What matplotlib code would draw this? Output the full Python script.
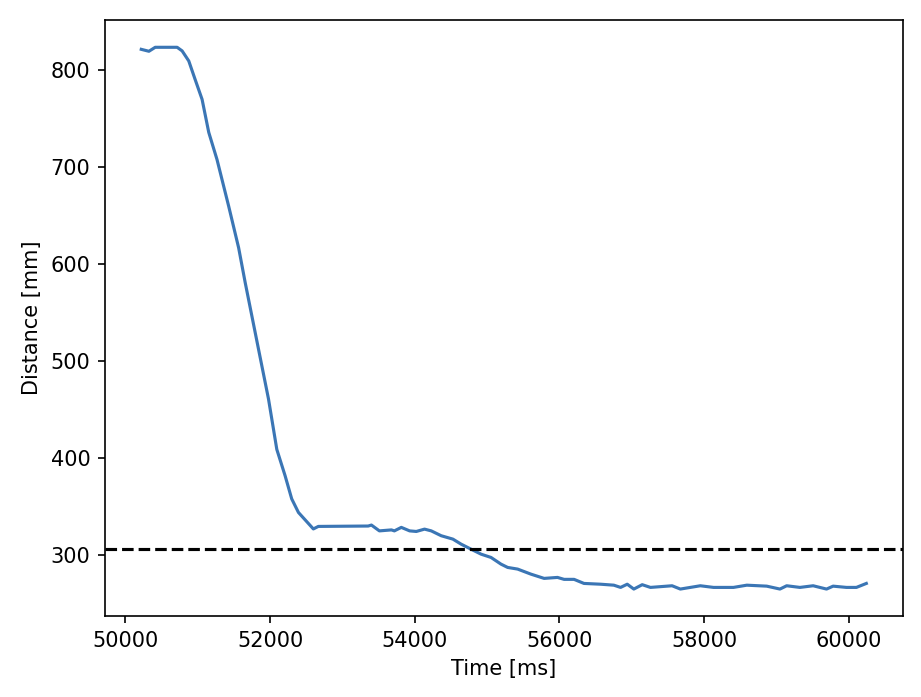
import matplotlib
matplotlib.use("Agg")
import matplotlib.pyplot as plt

time_ms = [50220, 50326, 50413, 50716, 50785, 50877, 50964, 51061, 51153, 51267,
           51428, 51566, 51657, 51842, 51979, 52094, 52208, 52300, 52393, 52599,
           52668, 53357, 53402, 53512, 53678, 53719, 53815, 53930, 54022, 54136,
           54229, 54366, 54528, 54642, 54825, 54917, 55055, 55193, 55285, 55423,
           55606, 55789, 55974, 56065, 56203, 56340, 56570, 56753, 56846, 56938,
           57029, 57145, 57259, 57558, 57672, 57948, 58131, 58406, 58591, 58866,
           59049, 59142, 59325, 59508, 59693, 59784, 59968, 60106, 60243]
distance_mm = [821.6, 819.6, 823.7, 823.7, 820, 809.6, 790.7, 770, 736, 708,
               660, 617, 581, 512, 461, 409, 382, 358, 344, 327,
               329.6, 330, 331, 325, 326, 325, 328.6, 325, 324.4, 326.8,
               325, 320, 316.5, 311.3, 304.4, 301, 297.6, 290.7, 287.3, 285.6,
               280.4, 276, 277, 275, 275, 270.8, 270, 269, 266.7, 270,
               265, 269.5, 266.7, 268.4, 265, 268.4, 266.7, 266.7, 269, 268,
               265, 268.4, 266.7, 268.4, 265, 268, 266.7, 266.7, 270.8]
threshold_mm = 306

fig = plt.figure(figsize=(6.14, 4.6467), dpi=150)
ax = fig.add_subplot(111)
fig.subplots_adjust(left=0.114, right=0.980, top=0.971, bottom=0.116)

ax.plot(time_ms, distance_mm, color='#3b76b5', lw=1.5)
ax.axhline(threshold_mm, color='black', linestyle='--', lw=1.5)

ax.set_xlabel('Time [ms]')
ax.set_ylabel('Distance [mm]')

fig.savefig('out.png', dpi=150)
